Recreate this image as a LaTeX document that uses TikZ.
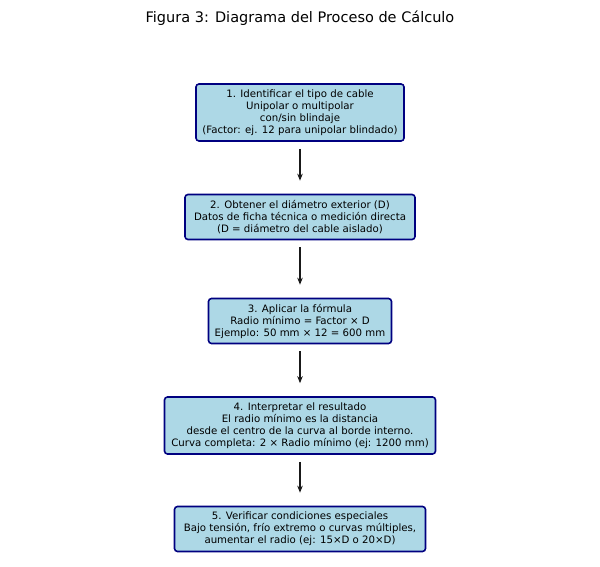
\documentclass[tikz,border=0pt]{standalone}
\usepackage{fontspec}
\setmainfont{DejaVu Sans}
\usetikzlibrary{arrows.meta}
\begin{document}
\begin{tikzpicture}[x=1pt,y=1pt,
  box/.style={draw=navyc,fill=boxc,line width=1.6pt,rounded corners=3pt,align=center,
    font=\fontsize{10.2}{12}\selectfont,inner sep=0pt},
  arr/.style={-{Stealth[length=7pt,width=5.5pt]},line width=1.5pt,black!90}]
\definecolor{navyc}{HTML}{000080}
\definecolor{boxc}{HTML}{ADD8E6}
\useasboundingbox (0,0) rectangle (600,566);
\node[font=\fontsize{14.5}{16}\selectfont] (t) at (300,548) {Figura 3: Diagrama del Proceso de Cálculo};
\node[box,minimum width=208,minimum height=57] (b1) at (300,453.5) {1. Identificar el tipo de cable\\Unipolar o multipolar\\con/sin blindaje\\(Factor: ej. 12 para unipolar blindado)};
\node[box,minimum width=230,minimum height=45] (b2) at (300,349) {2. Obtener el diámetro exterior (D)\\Datos de ficha técnica o medición directa\\(D = diámetro del cable aislado)};
\node[box,minimum width=183,minimum height=45] (b3) at (300,245) {3. Aplicar la fórmula\\Radio mínimo = Factor × D\\Ejemplo: 50 mm × 12 = 600 mm};
\node[box,minimum width=271,minimum height=57] (b4) at (300,140.5) {4. Interpretar el resultado\\El radio mínimo es la distancia\\desde el centro de la curva al borde interno.\\Curva completa: 2 × Radio mínimo (ej: 1200 mm)};
\node[box,minimum width=251,minimum height=45] (b5) at (300,37) {5. Verificar condiciones especiales\\Bajo tensión, frío extremo o curvas múltiples,\\aumentar el radio (ej: 15×D o 20×D)};
\draw[arr,shorten <=7pt,shorten >=13pt] (b1) -- (b2);
\draw[arr,shorten <=7pt,shorten >=13pt] (b2) -- (b3);
\draw[arr,shorten <=7pt,shorten >=13pt] (b3) -- (b4);
\draw[arr,shorten <=7pt,shorten >=13pt] (b4) -- (b5);
\end{tikzpicture}
\end{document}
